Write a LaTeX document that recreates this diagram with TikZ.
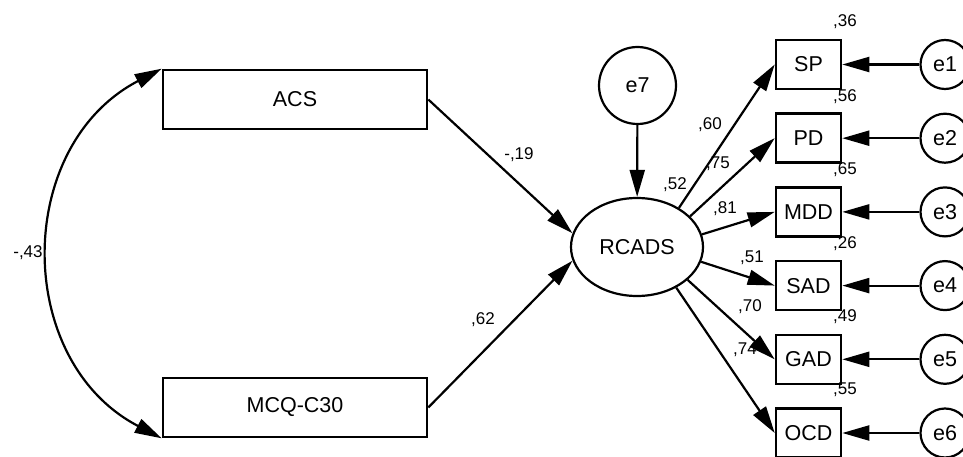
\documentclass[tikz,border=0pt]{standalone}
\usepackage{fontspec}
\setmainfont{Liberation Sans}
\usetikzlibrary{arrows.meta,shapes.geometric}
\begin{document}
\begin{tikzpicture}[x=1pt,y=1pt,
  every node/.style={inner sep=0pt},
  bigbox/.style={draw,line width=2.6pt,minimum width=264pt,minimum height=59pt,font=\fontsize{21.5}{25}\selectfont},
  obsbox/.style={draw,line width=2.6pt,minimum width=65pt,minimum height=49pt,font=\fontsize{21.5}{25}\selectfont},
  latent/.style={draw,ellipse,line width=2.2pt,minimum width=132pt,minimum height=98pt,font=\fontsize{21.5}{25}\selectfont},
  errbig/.style={draw,circle,line width=2.2pt,minimum size=77pt,font=\fontsize{21.5}{25}\selectfont},
  errsmall/.style={draw,circle,line width=2.2pt,minimum size=49pt,font=\fontsize{21.5}{25}\selectfont},
  coef/.style={font=\fontsize{17}{20}\selectfont},
  arr/.style={line width=2.2pt,-{Triangle[length=27pt,width=15pt]}},
  dblarr/.style={line width=2.2pt,{Triangle[length=27pt,width=15pt]}-{Triangle[length=27pt,width=15pt]}}
]
\useasboundingbox (0,0) rectangle (963,-457);

% exogenous boxes
\node[bigbox] (ACS) at (295,-99.5) {ACS};
\node[bigbox] (MCQ) at (295,-407.5) {MCQ-C30};

% latent and its error
\node[latent] (RCADS) at (637,-247) {RCADS};
\node[errbig] (e7) at (637.5,-85.5) {e7};

% indicators
\node[obsbox] (SP)  at (808.5,-64.5) {SP};
\node[obsbox] (PD)  at (808.5,-138.2) {PD};
\node[obsbox] (MDD) at (808.5,-211.9) {MDD};
\node[obsbox] (SAD) at (808.5,-285.6) {SAD};
\node[obsbox] (GAD) at (808.5,-359.3) {GAD};
\node[obsbox] (OCD) at (808.5,-433) {OCD};

% errors of indicators
\node[errsmall] (e1) at (945,-64.5) {e1};
\node[errsmall] (e2) at (945,-138.2) {e2};
\node[errsmall] (e3) at (945,-211.9) {e3};
\node[errsmall] (e4) at (945,-285.6) {e4};
\node[errsmall] (e5) at (945,-359.3) {e5};
\node[errsmall] (e6) at (945,-433) {e6};

% covariance
\draw[dblarr] (ACS.north west) to[out=207.5,in=152.5,looseness=1.16] (MCQ.south west);

% regressions
\draw[arr] (ACS.east) -- (RCADS.168);
\draw[arr] (MCQ.east) -- (RCADS.192);
\draw[arr] (e7) -- (RCADS);

% loadings
\draw[arr] (RCADS.43) -- (SP.west);
\draw[arr] (RCADS.30) -- (PD.west);
\draw[arr] (RCADS.11) -- (MDD.west);
\draw[arr] (RCADS.-13) -- (SAD.west);
\draw[arr] (RCADS.-33) -- (GAD.west);
\draw[arr] (RCADS.-46) -- (OCD.west);

% error paths
\draw[arr] (e1) -- (SP);
\draw[arr] (e2) -- (PD);
\draw[arr] (e3) -- (MDD);
\draw[arr] (e4) -- (SAD);
\draw[arr] (e5) -- (GAD);
\draw[arr] (e6) -- (OCD);

% coefficients
\node[coef] (c43) at (28,-253) {-,43};
\node[coef] (c19) at (519,-155) {-,19};
\node[coef] (c62) at (483,-320) {,62};
\node[coef] (c52) at (675,-185) {,52};
\node[coef] (c60) at (710,-125) {,60};
\node[coef] (c75) at (718,-164) {,75};
\node[coef] (c81) at (725,-209) {,81};
\node[coef] (c51) at (752,-258) {,51};
\node[coef] (c70) at (750,-307) {,70};
\node[coef] (c74) at (745,-350) {,74};

% squared multiple correlations
\node[coef] (r1) at (845,-21.5) {,36};
\node[coef] (r2) at (845,-96.5) {,56};
\node[coef] (r3) at (845,-170) {,65};
\node[coef] (r4) at (845,-243.5) {,26};
\node[coef] (r5) at (845,-316.5) {,49};
\node[coef] (r6) at (845,-390) {,55};
\end{tikzpicture}
\end{document}
